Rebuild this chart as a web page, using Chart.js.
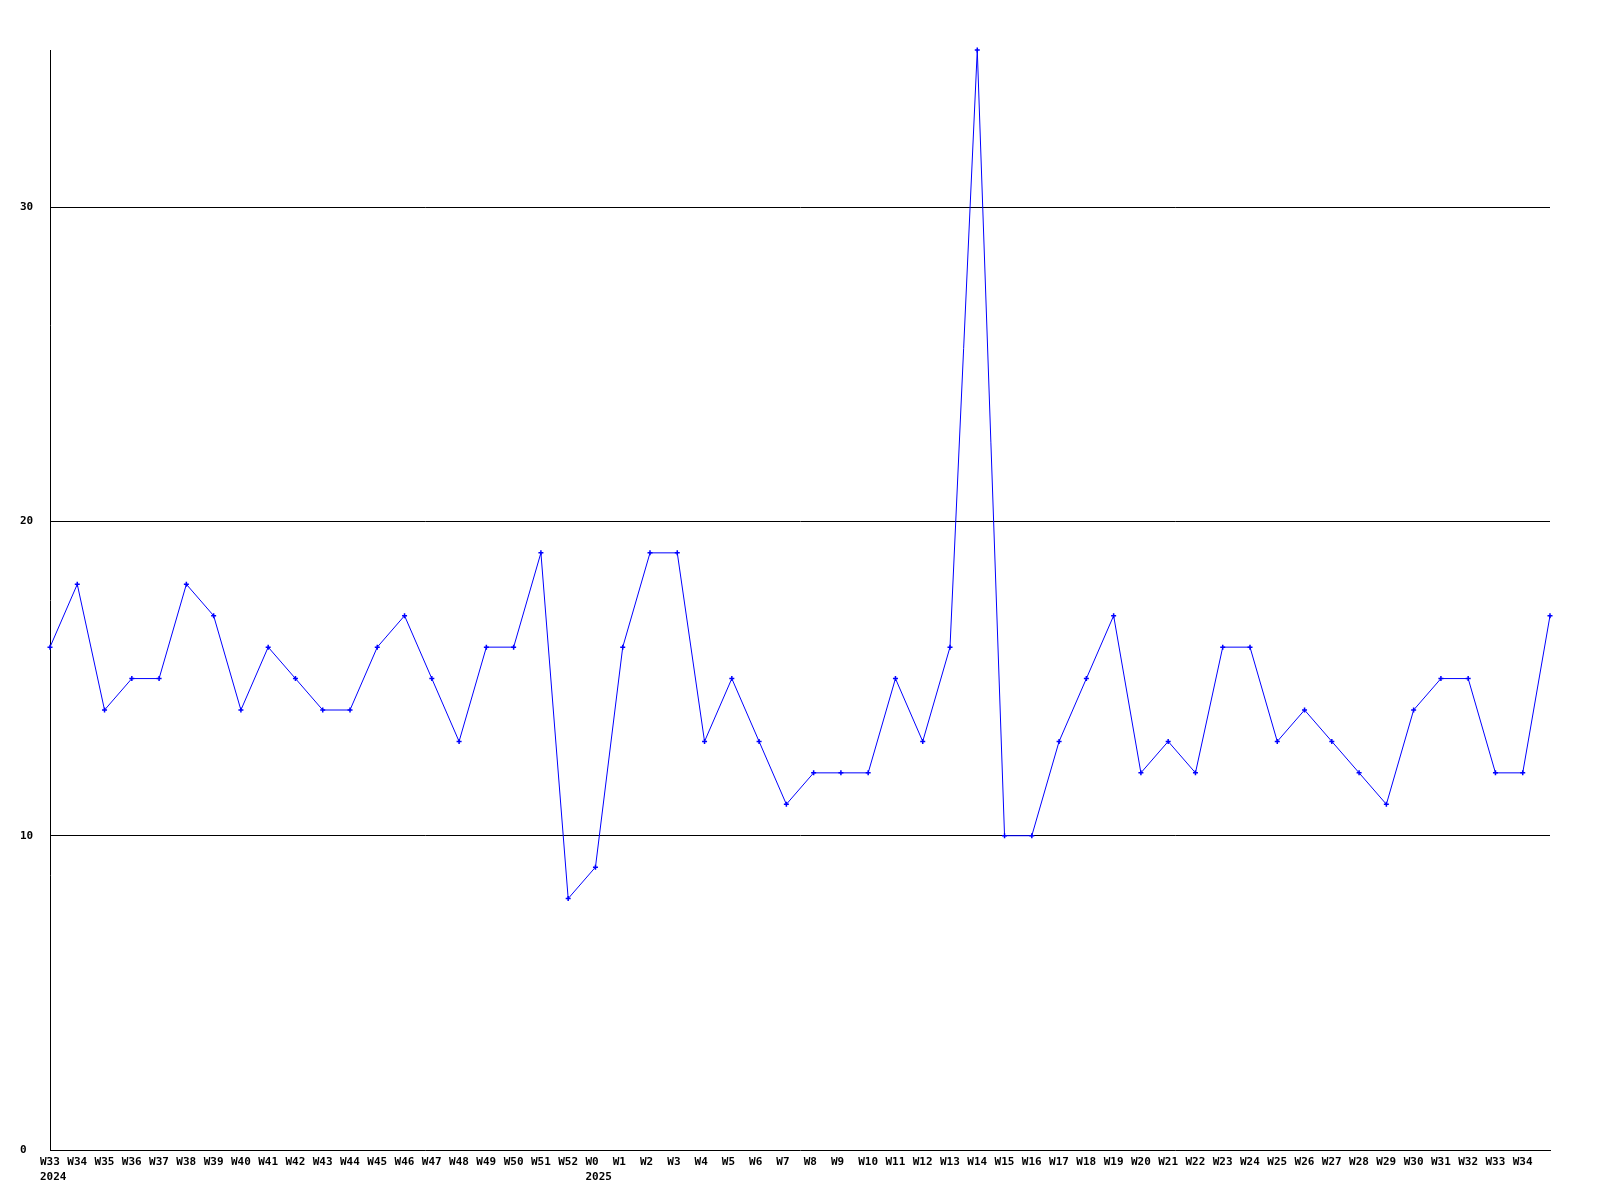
<!DOCTYPE html>
<html>
<head>
<meta charset="utf-8">
<script src="https://cdn.jsdelivr.net/npm/chart.js@4/dist/chart.umd.min.js"></script>
<style>
  html, body { margin: 0; padding: 0; background: #ffffff; }
  canvas { display: block; }
</style>
</head>
<body>
<canvas id="c" width="1600" height="1200"></canvas>
<script>
const weekLabels = [
  ['W33','2024'],'W34','W35','W36','W37','W38','W39','W40','W41','W42','W43','W44','W45','W46','W47','W48','W49','W50','W51','W52',
  ['W0','2025'],'W1','W2','W3','W4','W5','W6','W7','W8','W9','W10','W11','W12','W13','W14','W15','W16','W17','W18','W19','W20',
  'W21','W22','W23','W24','W25','W26','W27','W28','W29','W30','W31','W32','W33','W34',''
];
const seriesValues = [
  16,18,14,15,15,18,17,14,16,15,14,14,16,17,15,13,16,16,19,8,
  9,16,19,19,13,15,13,11,12,12,12,15,13,16,35,10,10,13,15,17,12,
  13,12,16,16,13,14,13,12,11,14,15,15,12,12,17
];
const yTickValues = [0, 10, 20, 30];
const yMin = 0, yMax = 35;

const tickFont = { family: 'DejaVu Sans Mono', size: 11, weight: 'bold', lineHeight: '15px' };

new Chart(document.getElementById('c'), {
  type: 'line',
  data: {
    labels: weekLabels,
    datasets: [{
      data: seriesValues,
      borderColor: '#0000ff',
      backgroundColor: '#0000ff',
      borderWidth: 1,
      tension: 0,
      fill: false,
      clip: false,
      pointStyle: 'cross',
      pointRadius: 2.5,
      pointBorderWidth: 1.5,
      pointBorderColor: '#0000ff',
      pointHoverRadius: 2.5
    }]
  },
  options: {
    responsive: false,
    animation: false,
    devicePixelRatio: 1,
    layout: { padding: { left: 20, right: 50, top: 50, bottom: 0 } },
    plugins: { legend: { display: false }, tooltip: { enabled: false } },
    scales: {
      x: {
        offset: false,
        grid: { display: true, drawOnChartArea: false, drawTicks: false, color: 'rgba(0,0,0,0)' },
        border: { display: true, color: '#000000', width: 1 },
        ticks: {
          autoSkip: false,
          maxRotation: 0,
          minRotation: 0,
          align: 'start',
          labelOffset: -10,
          padding: 5,
          color: '#000000',
          font: tickFont
        },
        afterFit: (s) => { s.height = 50; }
      },
      y: {
        min: yMin,
        max: yMax,
        afterBuildTicks: (s) => { s.ticks = yTickValues.map(v => ({ value: v })); },
        grid: {
          drawTicks: false,
          color: (ctx) => (ctx.tick && ctx.tick.value === 0) ? 'rgba(0,0,0,0)' : '#000000',
          lineWidth: 1
        },
        border: { display: true, color: '#000000', width: 1 },
        ticks: {
          crossAlign: 'far',
          padding: 17,
          color: '#000000',
          font: tickFont
        },
        afterFit: (s) => { s.width = 30; }
      }
    }
  }
});
</script>
</body>
</html>
